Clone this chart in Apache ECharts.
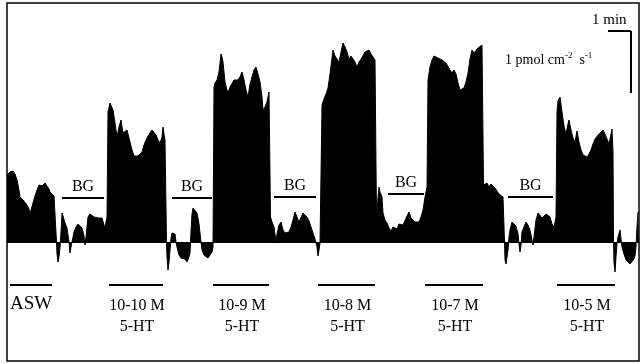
<!DOCTYPE html>
<html>
<head>
<meta charset="utf-8">
<script src="https://cdn.jsdelivr.net/npm/echarts@6/dist/echarts.min.js"></script>
<style>
html, body { margin: 0; padding: 0; background: #fff; }
#main { width: 641px; height: 364px; }
</style>
</head>
<body>
<div id="main"></div>
<script>
// trace: time (arbitrary units) and flux above/below baseline
var time = [
    7,10,13,15,17,19,20,22,23,25,27,29,30,31,33,35,37,39,40,42,43,45,47,49,50,52,54,56,
    56.5,57,58,59,60,61,62,63,65,67,68,69,70,71,72,74,76,78,80,82,84,85,86,88,90,92,94,96,98,100,102,104,105,106,107,
    108,110,112,113,115,117,119,121,122,123,125,127,129,130,132,134,136,138,140,142,144,146,148,150,152,154,156,158,160,162,163,164,165,166,
    166.5,167,168,169,170,171,172,174,175,176,177,179,181,183,185,187,189,190,191,192,193,195,197,199,200,201,202,204,206,208,210,212,213,
    214,215,217,219,221,222,223,225,227,228,230,232,234,236,238,240,242,244,246,248,250,252,254,256,258,260,262,263,265,267,269,270,
    270.5,272,274,276,276.5,277,279,281,283,285,287,289,291,293,295,297,299,301,303,305,307,309,311,313,315,317,318,319,320,321,
    322,324,326,328,330,332,333,335,337,339,341,343,345,347,349,351,353,355,357,359,361,363,365,367,369,371,373,375,376,
    376.5,377,378,379,380,382,383,385,387,389,391,393,395,397,399,401,403,405,407,409,411,413,415,417,419,421,423,425,427,
    428,430,432,434,436,438,440,442,444,446,448,450,452,454,456,458,460,462,464,466,468,470,472,474,476,478,480,482,483,
    483.5,485,487,489,491,493,495,497,499,501,503,504,
    504.5,505,506,507,508,509,510,512,514,516,518,519,520,521,522,524,526,528,530,532,533,534,536,538,540,542,544,546,548,550,552,554,556,
    557,558,560,562,564,566,568,569,571,573,575,577,579,581,583,585,587,589,591,593,595,597,599,601,603,605,607,609,611,612,613,
    613.5,614,615,616,617,618,620,621,622,624,626,628,630,632,634,635,636,637,638,639
];
var flux = [
    67,70,71,68,62,52,45,44,42,40,37,33,27,32,39,46,52,57,59,56,55,59,58,53,50,48,46,45,
    0,-12,-20,-15,-5,10,29,26,19,14,12,0,-11,-5,0,10,15,18,19,14,6,-3,5,25,28,30,25,24,24,26,24,17,14,20,25,
    130,139,139,132,119,105,115,122,115,109,110,112,104,102,92,86,84,86,85,90,97,102,106,109,112,110,107,102,99,105,115,108,102,100,
    0,-15,-28,-20,-8,4,9,10,8,0,-5,-13,-16,-18,-17,-20,-15,-11,10,28,34,32,29,18,9,0,-8,-13,-15,-16,-18,-10,-5,
    155,159,162,170,188,185,180,160,152,149,155,157,162,163,162,165,170,162,152,145,158,165,172,175,168,160,145,132,135,140,150,152,
    25,20,15,0,-2,8,17,20,12,9,9,10,15,22,30,32,20,20,29,27,25,21,15,9,3,-5,-14,-8,-1,0,
    137,143,148,154,168,184,192,186,187,180,190,199,195,190,183,186,187,180,175,180,183,185,190,192,192,188,185,182,180,
    25,30,45,55,50,45,29,22,19,14,11,15,14,13,18,20,17,18,26,30,24,22,20,21,20,25,32,45,55,
    162,175,182,186,187,184,182,182,180,179,178,172,169,172,168,159,152,150,154,160,169,183,192,189,190,194,195,197,196,
    57,58,59,55,58,59,54,52,48,46,45,44,
    0,-18,-22,-21,-8,5,12,20,20,16,8,-2,-10,-3,10,15,20,17,12,2,-3,5,22,29,30,24,22,28,27,25,18,15,25,
    130,141,145,130,116,108,118,122,112,104,100,111,100,92,87,85,85,88,92,98,103,105,108,110,112,108,103,98,100,113,90,
    0,-20,-30,-15,-2,5,12,3,-5,-12,-18,-20,-22,-22,-17,-14,-5,15,30,30
];

// treatment bars under the trace
var stimLabels = ['ASW', '10-10 M\n5-HT', '10-9 M\n5-HT', '10-8 M\n5-HT', '10-7 M\n5-HT', '10-5 M\n5-HT'];
var stimStart = [10, 109, 213, 318, 425, 557];
var stimEnd = [52, 163, 269, 375, 483, 615];
var stimLevel = -43;

// background (BG) bars
var bgStart = [62, 172, 274, 388, 508];
var bgEnd = [104, 212, 316, 424, 553];
var bgLevel = [44, 44, 45, 48, 45];

// scale bar: 1 min horizontal, 1 pmol cm-2 s-1 vertical
var scaleX = [608, 631];
var scaleY = [211, 149];

var serif = 'Liberation Serif';

var traceData = [];
for (var i = 0; i < time.length; i++) {
    traceData.push([time[i], flux[i]]);
}

var marks = [];
for (var s = 0; s < stimLabels.length; s++) {
    var first = s === 0;
    marks.push([
        {
            coord: [stimStart[s], stimLevel],
            name: stimLabels[s],
            label: {
                show: true,
                formatter: '{b}',
                position: first ? 'insideStartBottom' : 'insideMiddleBottom',
                distance: first ? 9 : 10,
                offset: first ? [-9, 0] : [1, 0],
                color: '#000',
                fontFamily: serif,
                fontSize: first ? 19 : 16,
                lineHeight: 21
            }
        },
        { coord: [stimEnd[s], stimLevel] }
    ]);
}
for (var b = 0; b < bgStart.length; b++) {
    marks.push([
        {
            coord: [bgStart[b], bgLevel[b]],
            name: 'BG',
            label: {
                show: true,
                formatter: '{b}',
                position: 'insideMiddleTop',
                distance: 3,
                color: '#000',
                fontFamily: serif,
                fontSize: 16
            }
        },
        { coord: [bgEnd[b], bgLevel[b]] }
    ]);
}
marks.push([{ coord: [scaleX[0], scaleY[0]], label: { show: false } }, { coord: [scaleX[1], scaleY[0]] }]);
marks.push([{ coord: [scaleX[1], scaleY[0]], label: { show: false } }, { coord: [scaleX[1], scaleY[1]] }]);

var chart = echarts.init(document.getElementById('main'));
var option = {
    animation: false,
    backgroundColor: '#fff',
    grid: {
        left: 7, right: 2, top: 3, bottom: 3,
        show: true,
        borderColor: '#000',
        borderWidth: 1.5,
        backgroundColor: 'transparent'
    },
    xAxis: {
        type: 'value',
        min: 7,
        max: 639,
        axisLine: { show: true, onZero: true, lineStyle: { color: '#000', width: 1 } },
        axisTick: { show: false },
        axisLabel: { show: false },
        splitLine: { show: false }
    },
    yAxis: {
        type: 'value',
        min: -119,
        max: 239,
        axisLine: { show: false },
        axisTick: { show: false },
        axisLabel: { show: false },
        splitLine: { show: false }
    },
    graphic: [
        {
            type: 'text',
            left: 592,
            top: 13,
            style: { text: '1 min', font: '15px "Liberation Serif"', fill: '#000' }
        },
        {
            type: 'text',
            left: 505,
            top: 51,
            style: {
                text: '1 pmol cm{sup|-2}  s{sup|-1}',
                fill: '#000',
                rich: {
                    sup: { fontSize: 9, fontFamily: serif, verticalAlign: 'top', lineHeight: 12, padding: [0, 0, 6, 0], fill: '#000' }
                },
                font: '14px "Liberation Serif"',
                lineHeight: 18
            }
        }
    ],
    series: [
        {
            type: 'line',
            data: traceData,
            symbol: 'none',
            smooth: false,
            silent: true,
            lineStyle: { color: '#000', width: 1 },
            areaStyle: { color: '#000', opacity: 1 },
            markLine: {
                silent: true,
                symbol: ['none', 'none'],
                lineStyle: { color: '#000', type: 'solid', width: 2 },
                label: { show: false },
                emphasis: { disabled: true },
                data: marks
            }
        }
    ]
};
chart.setOption(option);
</script>
</body>
</html>
